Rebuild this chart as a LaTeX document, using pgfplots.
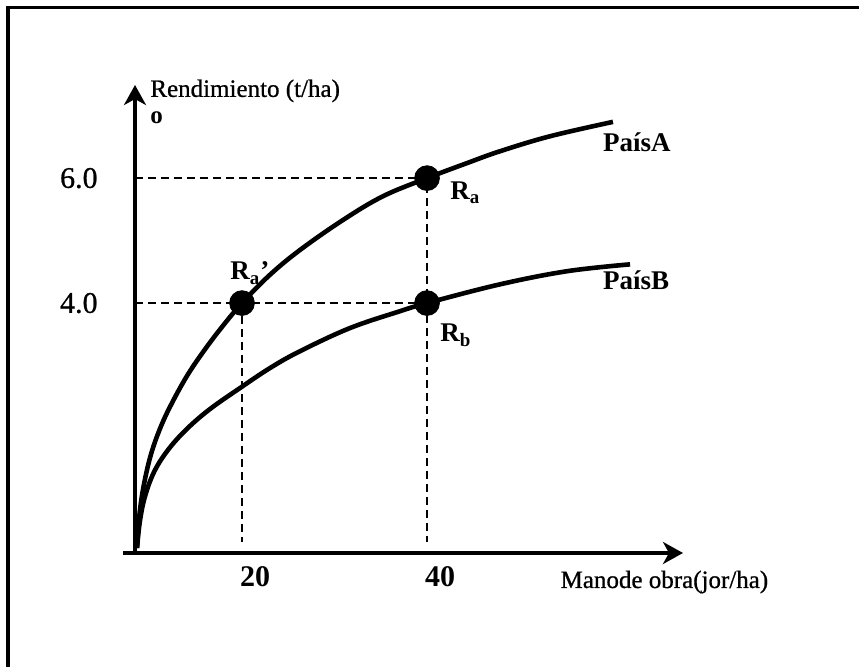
\documentclass[border=0pt]{standalone}
\usepackage{fontspec}
\setmainfont{Liberation Serif}
\newfontfamily\heavy[FakeBold=0.8]{Liberation Serif}
\usepackage{pgfplots}
\pgfplotsset{compat=1.18}
\usetikzlibrary{arrows.meta}

\pgfplotstableread{
x y
8.65 0.08
8.90 0.60
9.40 1.10
10.20 1.60
11.30 2.05
12.60 2.45
14.20 2.87
16.00 3.26
17.90 3.63
20.00 4.00
23.00 4.45
26.27 4.85
30.92 5.33
35.24 5.71
40.00 6.00
44.32 6.24
47.89 6.43
53.30 6.67
60.10 6.90
}\paisA

\pgfplotstableread{
x y
8.65 0.08
8.95 0.50
9.50 0.90
10.50 1.30
12.00 1.65
14.00 1.98
16.50 2.30
19.78 2.64
23.02 2.96
26.27 3.23
31.67 3.60
37.08 3.87
40.00 4.00
47.89 4.30
55.14 4.51
61.95 4.62
}\paisB

\begin{document}
\begin{tikzpicture}
\useasboundingbox (0,0) rectangle (429.5pt,333pt);
\draw[line width=1.5pt] (4pt,-1pt) -- (4pt,329pt) -- (431pt,329pt);
\begin{axis}[
  at={(67.5pt,56.5pt)}, anchor=south west,
  scale only axis, width=274pt, height=234pt,
  xmin=8.43, xmax=67.67, ymin=0, ymax=7.49,
  axis lines=left,
  axis line style={line width=2pt, -{Stealth[length=10pt,width=11pt,inset=3pt]}},
  x axis line style={shorten <=-6pt},
  xtick={20,40}, xticklabels={20,40},
  ytick={4,6}, yticklabels={4.0,6.0},
  major tick length=0pt,
  tick style={draw=none},
  xticklabel style={font=\fontsize{15}{18}\selectfont\bfseries, anchor=north, inner sep=0pt, xshift=6.5pt, yshift=-6.5pt},
  yticklabel style={font=\fontsize{15}{18}\selectfont\heavy, anchor=east, inner sep=0pt, xshift=-18.5pt},
  /pgf/number format/assume math mode=true,
  clip=false,
]
\addplot[line width=1.3pt, dash pattern=on 4pt off 2.5pt] coordinates {(8.43,6) (40,6) (40,0.18)};
\addplot[line width=1.3pt, dash pattern=on 4pt off 2.5pt] coordinates {(8.43,4) (40,4)};
\addplot[line width=1.3pt, dash pattern=on 4pt off 2.5pt] coordinates {(20,4) (20,0.18)};
\addplot[line width=2.3pt, smooth, tension=0.6] table[x=x,y=y] {\paisA};
\addplot[line width=2.3pt, smooth, tension=0.6] table[x=x,y=y] {\paisB};
\addplot[only marks, mark=*, mark size=6.2pt, fill=black] coordinates {(20,4) (40,6) (40,4)};

\node[anchor=base west, inner sep=0pt, font=\fontsize{12.5}{15}\selectfont\heavy] at (axis cs:10.05,7.30) {Rendimiento (t/ha)};
\node[anchor=base west, inner sep=0pt, font=\fontsize{12.5}{15}\selectfont\bfseries] at (axis cs:10.05,6.88) {o};
\node[anchor=base west, inner sep=0pt, font=\fontsize{12.5}{15}\selectfont\heavy] at (axis cs:54.4,-0.56) {Manode obra(jor/ha)};
\node[anchor=base west, inner sep=0pt, font=\fontsize{13.5}{16}\selectfont\bfseries] at (axis cs:59.0,6.42) {PaísA};
\node[anchor=base west, inner sep=0pt, font=\fontsize{13.5}{16}\selectfont\bfseries] at (axis cs:59.0,4.21) {PaísB};
\node[anchor=base west, inner sep=0pt, font=\fontsize{13.5}{16}\selectfont\bfseries] at (axis cs:42.48,5.66) {R\textsubscript{a}};
\node[anchor=base west, inner sep=0pt, font=\fontsize{13.5}{16}\selectfont\bfseries] at (axis cs:41.4,3.38) {R\textsubscript{b}};
\node[anchor=base west, inner sep=0pt, font=\fontsize{13.5}{16}\selectfont\bfseries] at (axis cs:18.70,4.37) {R\textsubscript{a}’};
\end{axis}
\end{tikzpicture}
\end{document}
